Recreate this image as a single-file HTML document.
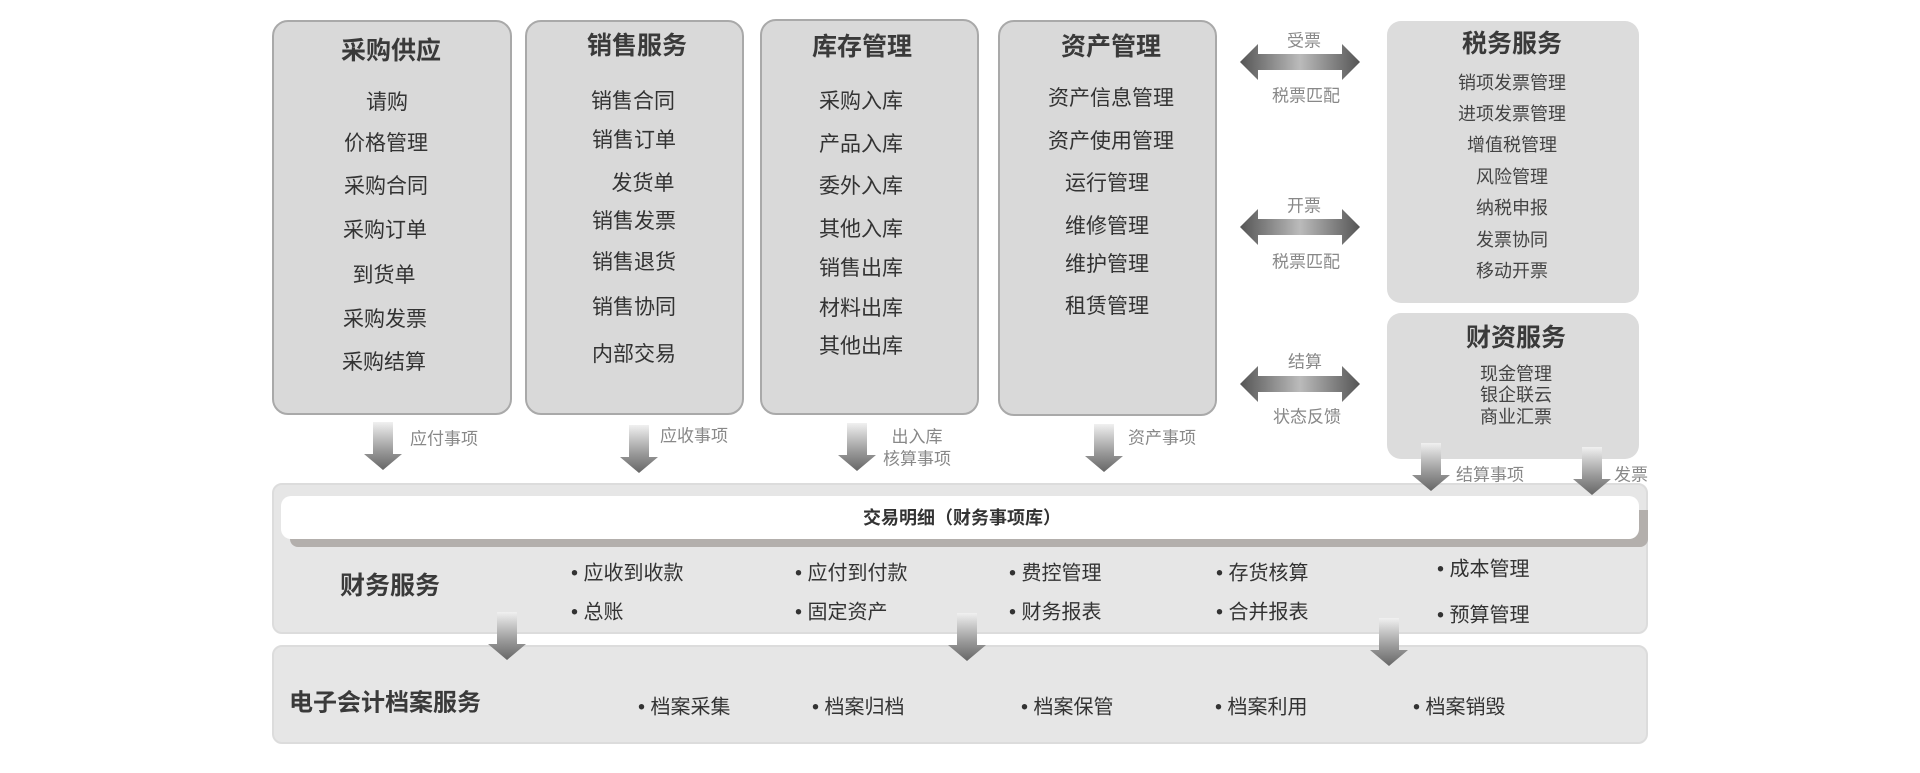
<!DOCTYPE html>
<html><head><meta charset="utf-8"><style>
body{margin:0;width:1920px;height:773px;background:#fff;position:relative;overflow:hidden;font-family:"Liberation Sans","Noto Sans CJK SC",sans-serif;color:#333}
.box{position:absolute;background:#d9d9d9;border:2px solid #a9a9a9;border-radius:16px;box-sizing:border-box}
.sbox{position:absolute;background:#dcdcdc;border-radius:14px;box-sizing:border-box}
.t{position:absolute;transform:translate(-50%,-50%);white-space:nowrap}
.h{font-weight:bold;font-size:25px;color:#3a3a3a}
.i{font-size:21px;color:#333}
.s{font-size:18px;color:#444}
.g{font-size:17px;color:#888}
.l{position:absolute;transform:translateY(-50%);white-space:nowrap;font-size:20px;color:#333}
.band{position:absolute;background:#e6e6e6;border:2px solid #dcdcdc;border-radius:10px;box-sizing:border-box}
svg{position:absolute;left:0;top:0}
</style></head><body>
<div class="box" style="left:272px;top:20px;width:240px;height:395px"></div>
<div class="box" style="left:525px;top:20px;width:219px;height:395px"></div>
<div class="box" style="left:760px;top:19px;width:219px;height:396px"></div>
<div class="box" style="left:998px;top:20px;width:219px;height:396px"></div>
<div class="sbox" style="left:1387px;top:21px;width:252px;height:282px"></div>
<div class="sbox" style="left:1387px;top:313px;width:252px;height:146px"></div>
<div class="band" style="left:272px;top:483px;width:1376px;height:151px"></div>
<div style="position:absolute;left:290px;top:510px;width:1358px;height:37px;background:#b3afac;border-radius:0 0 8px 8px"></div>
<div style="position:absolute;left:281px;top:496px;width:1358px;height:43px;background:#fff;border-radius:10px"></div>
<div class="band" style="left:272px;top:645px;width:1376px;height:99px"></div>

<svg width="1920" height="773">
<defs>
<linearGradient id="dv" x1="0" y1="0" x2="0" y2="1"><stop offset="0" stop-color="#f0f0f0"/><stop offset="0.6" stop-color="#999"/><stop offset="1" stop-color="#666"/></linearGradient>
<linearGradient id="hh" x1="0" y1="0" x2="1" y2="0"><stop offset="0" stop-color="#555"/><stop offset="0.5" stop-color="#bbb"/><stop offset="1" stop-color="#555"/></linearGradient>
<g id="da"><path d="M-10,0 H10 V32 H19 L0,48 L-19,32 H-10 Z" fill="url(#dv)"/></g>
<g id="ha"><path d="M0,0 L18,-18 V-8 H102 V-18 L120,0 L102,18 V8 H18 V18 Z" fill="url(#hh)"/></g>
</defs>
<use href="#da" x="383" y="422"/>
<use href="#da" x="639" y="425"/>
<use href="#da" x="857" y="423"/>
<use href="#da" x="1104" y="424"/>
<use href="#da" x="1431" y="443"/>
<use href="#da" x="1592" y="447"/>
<use href="#da" x="507" y="612"/>
<use href="#da" x="967" y="613"/>
<use href="#da" x="1389" y="618"/>
<use href="#ha" x="1240" y="62"/>
<use href="#ha" x="1240" y="227"/>
<use href="#ha" x="1240" y="384"/>
</svg>

<div class="t h" style="left:391px;top:49px">采购供应</div>
<div class="t i" style="left:387px;top:101px">请购</div>
<div class="t i" style="left:386px;top:142px">价格管理</div>
<div class="t i" style="left:386px;top:185px">采购合同</div>
<div class="t i" style="left:385px;top:229px">采购订单</div>
<div class="t i" style="left:384px;top:274px">到货单</div>
<div class="t i" style="left:385px;top:318px">采购发票</div>
<div class="t i" style="left:384px;top:361px">采购结算</div>

<div class="t h" style="left:637px;top:44px">销售服务</div>
<div class="t i" style="left:633px;top:100px">销售合同</div>
<div class="t i" style="left:634px;top:139px">销售订单</div>
<div class="t i" style="left:643px;top:182px">发货单</div>
<div class="t i" style="left:634px;top:220px">销售发票</div>
<div class="t i" style="left:634px;top:261px">销售退货</div>
<div class="t i" style="left:634px;top:306px">销售协同</div>
<div class="t i" style="left:634px;top:353px">内部交易</div>

<div class="t h" style="left:862px;top:45px">库存管理</div>
<div class="t i" style="left:861px;top:100px">采购入库</div>
<div class="t i" style="left:861px;top:143px">产品入库</div>
<div class="t i" style="left:861px;top:185px">委外入库</div>
<div class="t i" style="left:861px;top:228px">其他入库</div>
<div class="t i" style="left:861px;top:267px">销售出库</div>
<div class="t i" style="left:861px;top:307px">材料出库</div>
<div class="t i" style="left:861px;top:345px">其他出库</div>

<div class="t h" style="left:1111px;top:45px">资产管理</div>
<div class="t i" style="left:1111px;top:97px">资产信息管理</div>
<div class="t i" style="left:1111px;top:140px">资产使用管理</div>
<div class="t i" style="left:1107px;top:182px">运行管理</div>
<div class="t i" style="left:1107px;top:225px">维修管理</div>
<div class="t i" style="left:1107px;top:263px">维护管理</div>
<div class="t i" style="left:1107px;top:305px">租赁管理</div>

<div class="t h" style="left:1512px;top:42px">税务服务</div>
<div class="t s" style="left:1512px;top:82px">销项发票管理</div>
<div class="t s" style="left:1512px;top:113px">进项发票管理</div>
<div class="t s" style="left:1512px;top:144px">增值税管理</div>
<div class="t s" style="left:1512px;top:176px">风险管理</div>
<div class="t s" style="left:1512px;top:207px">纳税申报</div>
<div class="t s" style="left:1512px;top:239px">发票协同</div>
<div class="t s" style="left:1512px;top:270px">移动开票</div>

<div class="t h" style="left:1516px;top:336px">财资服务</div>
<div class="t s" style="left:1516px;top:373px">现金管理</div>
<div class="t s" style="left:1516px;top:394px">银企联云</div>
<div class="t s" style="left:1516px;top:416px">商业汇票</div>

<div class="t g" style="left:1304px;top:39px">受票</div>
<div class="t g" style="left:1306px;top:94px">税票匹配</div>
<div class="t g" style="left:1304px;top:204px">开票</div>
<div class="t g" style="left:1306px;top:260px">税票匹配</div>
<div class="t g" style="left:1305px;top:360px">结算</div>
<div class="t g" style="left:1307px;top:415px">状态反馈</div>

<div class="t g" style="left:444px;top:437px">应付事项</div>
<div class="t g" style="left:694px;top:434px">应收事项</div>
<div class="t g" style="left:917px;top:435px">出入库</div>
<div class="t g" style="left:917px;top:457px">核算事项</div>
<div class="t g" style="left:1162px;top:436px">资产事项</div>
<div class="t g" style="left:1490px;top:473px">结算事项</div>
<div class="t g" style="left:1631px;top:473px">发票</div>

<div class="t" style="left:962px;top:517px;font-size:18px;font-weight:bold;color:#333">交易明细（财务事项库）</div>

<div class="t h" style="left:390px;top:584px;font-size:25px">财务服务</div>
<div class="l" style="left:571px;top:571px">• 应收到收款</div>
<div class="l" style="left:571px;top:610px">• 总账</div>
<div class="l" style="left:795px;top:571px">• 应付到付款</div>
<div class="l" style="left:795px;top:610px">• 固定资产</div>
<div class="l" style="left:1009px;top:571px">• 费控管理</div>
<div class="l" style="left:1009px;top:610px">• 财务报表</div>
<div class="l" style="left:1216px;top:571px">• 存货核算</div>
<div class="l" style="left:1216px;top:610px">• 合并报表</div>
<div class="l" style="left:1437px;top:567px">• 成本管理</div>
<div class="l" style="left:1437px;top:613px">• 预算管理</div>

<div class="l" style="left:289px;top:700px;font-size:24px;font-weight:bold;color:#3a3a3a">电子会计档案服务</div>
<div class="l" style="left:638px;top:705px">• 档案采集</div>
<div class="l" style="left:812px;top:705px">• 档案归档</div>
<div class="l" style="left:1021px;top:705px">• 档案保管</div>
<div class="l" style="left:1215px;top:705px">• 档案利用</div>
<div class="l" style="left:1413px;top:705px">• 档案销毁</div>
</body></html>
